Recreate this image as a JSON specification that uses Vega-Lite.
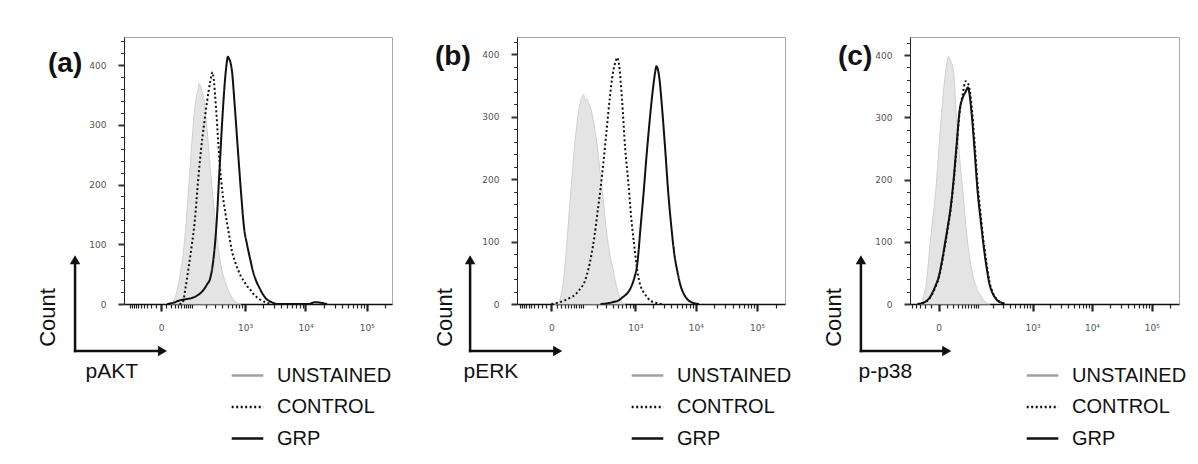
{
 "$schema": "https://vega.github.io/schema/vega-lite/v6.json",
 "background": "white",
 "padding": {"left": 35, "top": 36, "right": 5, "bottom": 5},
 "autosize": {"type": "pad"},
 "spacing": 125,
 "bounds": "flush",
 "config": {
  "font": "Liberation Sans",
  "view": {"stroke": "#a8a8a8", "strokeWidth": 1},
  "axis": {"grid": false},
  "axisX": {"labelExpr": "datum.value === 0 ? '0' : datum.value === 1000 ? '10³' : datum.value === 10000 ? '10⁴' : datum.value === 100000 ? '10⁵' : ''",
   "tickColor": "#222", "domainColor": "#111", "domainWidth": 1.5,
   "labelFont": "DejaVu Sans", "labelFontSize": 9, "labelColor": "#555", "labelPadding": 12, "labelFlush": false, "labelOverlap": false,
   "titleFont": "Liberation Sans", "titleFontSize": 21, "titleFontWeight": "normal", "titleColor": "#111",
   "titleAlign": "left", "titleBaseline": "alphabetic", "titleY": 73},
  "axisY": {"labelExpr": "datum.value % 100 === 0 ? datum.label : ''",
   "tickColor": "#333", "domainColor": "#222", "domainWidth": 1,
   "labelFont": "DejaVu Sans", "labelFontSize": 9, "labelColor": "#555", "labelPadding": 12, "labelFlush": false, "labelOverlap": false,
   "titleFont": "Liberation Sans", "titleFontSize": 22, "titleFontWeight": "normal", "titleColor": "#111",
   "titleAngle": 270, "titleAlign": "center", "titleBaseline": "alphabetic", "titleY": 280},
  "legend": {"orient": "none", "title": null, "symbolType": "stroke", "symbolSize": 1000, "symbolStrokeWidth": 2.5, "labelFontSize": 20, "labelFont": "Liberation Sans", "labelColor": "#111", "labelOffset": 12, "rowPadding": 3.5, "padding": 0},
  "title": {"anchor": "start", "frame": "group", "offset": 0, "fontSize": 28, "fontWeight": "bold", "color": "#111", "baseline": "alphabetic"}
 },
 "resolve": {"scale": {"x": "independent", "y": "independent", "color": "independent", "strokeDash": "independent"}, "legend": {"color": "independent", "strokeDash": "independent"}},
 "datasets": {
  "hist": [
   {"panel":"a","sample":"UNSTAINED","intensity":18.6,"count":0},
   {"panel":"a","sample":"UNSTAINED","intensity":26.3,"count":5},
   {"panel":"a","sample":"UNSTAINED","intensity":35,"count":18},
   {"panel":"a","sample":"UNSTAINED","intensity":44.8,"count":43},
   {"panel":"a","sample":"UNSTAINED","intensity":55.8,"count":75},
   {"panel":"a","sample":"UNSTAINED","intensity":68,"count":126},
   {"panel":"a","sample":"UNSTAINED","intensity":81.8,"count":195},
   {"panel":"a","sample":"UNSTAINED","intensity":97.3,"count":268},
   {"panel":"a","sample":"UNSTAINED","intensity":114.7,"count":330},
   {"panel":"a","sample":"UNSTAINED","intensity":134.1,"count":358},
   {"panel":"a","sample":"UNSTAINED","intensity":143.9,"count":369},
   {"panel":"a","sample":"UNSTAINED","intensity":156,"count":362},
   {"panel":"a","sample":"UNSTAINED","intensity":180.5,"count":340},
   {"panel":"a","sample":"UNSTAINED","intensity":208,"count":291},
   {"panel":"a","sample":"UNSTAINED","intensity":238.9,"count":228},
   {"panel":"a","sample":"UNSTAINED","intensity":273.6,"count":173},
   {"panel":"a","sample":"UNSTAINED","intensity":312.4,"count":120},
   {"panel":"a","sample":"UNSTAINED","intensity":356.1,"count":80},
   {"panel":"a","sample":"UNSTAINED","intensity":405,"count":52},
   {"panel":"a","sample":"UNSTAINED","intensity":459.9,"count":36},
   {"panel":"a","sample":"UNSTAINED","intensity":521.5,"count":21},
   {"panel":"a","sample":"UNSTAINED","intensity":590.6,"count":12},
   {"panel":"a","sample":"UNSTAINED","intensity":668.2,"count":4},
   {"panel":"a","sample":"UNSTAINED","intensity":755.1,"count":1},
   {"panel":"a","sample":"UNSTAINED","intensity":852.9,"count":0},

   {"panel":"a","sample":"CONTROL","intensity":44.8,"count":0},
   {"panel":"a","sample":"CONTROL","intensity":55.8,"count":2},
   {"panel":"a","sample":"CONTROL","intensity":68,"count":28},
   {"panel":"a","sample":"CONTROL","intensity":81.8,"count":62},
   {"panel":"a","sample":"CONTROL","intensity":97.3,"count":98},
   {"panel":"a","sample":"CONTROL","intensity":114.7,"count":140},
   {"panel":"a","sample":"CONTROL","intensity":134.1,"count":203},
   {"panel":"a","sample":"CONTROL","intensity":156,"count":258},
   {"panel":"a","sample":"CONTROL","intensity":180.5,"count":301},
   {"panel":"a","sample":"CONTROL","intensity":208,"count":340},
   {"panel":"a","sample":"CONTROL","intensity":238.9,"count":372},
   {"panel":"a","sample":"CONTROL","intensity":266,"count":388},
   {"panel":"a","sample":"CONTROL","intensity":273.6,"count":382},
   {"panel":"a","sample":"CONTROL","intensity":312.4,"count":320},
   {"panel":"a","sample":"CONTROL","intensity":356.1,"count":240},
   {"panel":"a","sample":"CONTROL","intensity":405,"count":186},
   {"panel":"a","sample":"CONTROL","intensity":459.9,"count":150},
   {"panel":"a","sample":"CONTROL","intensity":521.5,"count":120},
   {"panel":"a","sample":"CONTROL","intensity":590.6,"count":90},
   {"panel":"a","sample":"CONTROL","intensity":668.2,"count":72},
   {"panel":"a","sample":"CONTROL","intensity":755.1,"count":58},
   {"panel":"a","sample":"CONTROL","intensity":852.9,"count":46},
   {"panel":"a","sample":"CONTROL","intensity":962.5,"count":38},
   {"panel":"a","sample":"CONTROL","intensity":1085,"count":30},
   {"panel":"a","sample":"CONTROL","intensity":1223,"count":24},
   {"panel":"a","sample":"CONTROL","intensity":1378,"count":17},
   {"panel":"a","sample":"CONTROL","intensity":1552,"count":12},
   {"panel":"a","sample":"CONTROL","intensity":1747,"count":8},
   {"panel":"a","sample":"CONTROL","intensity":2210,"count":3},
   {"panel":"a","sample":"CONTROL","intensity":2794,"count":0},

   {"panel":"a","sample":"GRP","intensity":11.6,"count":0},
   {"panel":"a","sample":"GRP","intensity":26.3,"count":2},
   {"panel":"a","sample":"GRP","intensity":44.8,"count":6},
   {"panel":"a","sample":"GRP","intensity":68,"count":8},
   {"panel":"a","sample":"GRP","intensity":97.3,"count":10},
   {"panel":"a","sample":"GRP","intensity":114.7,"count":12},
   {"panel":"a","sample":"GRP","intensity":134.1,"count":15},
   {"panel":"a","sample":"GRP","intensity":156,"count":19},
   {"panel":"a","sample":"GRP","intensity":180.5,"count":25},
   {"panel":"a","sample":"GRP","intensity":208,"count":33},
   {"panel":"a","sample":"GRP","intensity":238.9,"count":43},
   {"panel":"a","sample":"GRP","intensity":273.6,"count":73},
   {"panel":"a","sample":"GRP","intensity":312.4,"count":130},
   {"panel":"a","sample":"GRP","intensity":356.1,"count":222},
   {"panel":"a","sample":"GRP","intensity":405,"count":315},
   {"panel":"a","sample":"GRP","intensity":459.9,"count":386},
   {"panel":"a","sample":"GRP","intensity":507,"count":414},
   {"panel":"a","sample":"GRP","intensity":521.5,"count":412},
   {"panel":"a","sample":"GRP","intensity":590.6,"count":393},
   {"panel":"a","sample":"GRP","intensity":668.2,"count":330},
   {"panel":"a","sample":"GRP","intensity":755.1,"count":258},
   {"panel":"a","sample":"GRP","intensity":852.9,"count":188},
   {"panel":"a","sample":"GRP","intensity":962.5,"count":128},
   {"panel":"a","sample":"GRP","intensity":1085,"count":99},
   {"panel":"a","sample":"GRP","intensity":1223,"count":75},
   {"panel":"a","sample":"GRP","intensity":1378,"count":53},
   {"panel":"a","sample":"GRP","intensity":1552,"count":38},
   {"panel":"a","sample":"GRP","intensity":1747,"count":27},
   {"panel":"a","sample":"GRP","intensity":2210,"count":10},
   {"panel":"a","sample":"GRP","intensity":2794,"count":3},
   {"panel":"a","sample":"GRP","intensity":3529,"count":0},
   {"panel":"a","sample":"GRP","intensity":11259,"count":0},
   {"panel":"a","sample":"GRP","intensity":14185,"count":3},
   {"panel":"a","sample":"GRP","intensity":17870,"count":2},
   {"panel":"a","sample":"GRP","intensity":22510,"count":0},

   {"panel":"b","sample":"UNSTAINED","intensity":5.5,"count":0},
   {"panel":"b","sample":"UNSTAINED","intensity":11.6,"count":1},
   {"panel":"b","sample":"UNSTAINED","intensity":18.6,"count":11},
   {"panel":"b","sample":"UNSTAINED","intensity":26.3,"count":40},
   {"panel":"b","sample":"UNSTAINED","intensity":35,"count":95},
   {"panel":"b","sample":"UNSTAINED","intensity":44.8,"count":160},
   {"panel":"b","sample":"UNSTAINED","intensity":55.8,"count":222},
   {"panel":"b","sample":"UNSTAINED","intensity":68,"count":275},
   {"panel":"b","sample":"UNSTAINED","intensity":81.8,"count":312},
   {"panel":"b","sample":"UNSTAINED","intensity":97.3,"count":333},
   {"panel":"b","sample":"UNSTAINED","intensity":105.7,"count":336},
   {"panel":"b","sample":"UNSTAINED","intensity":114.7,"count":326},
   {"panel":"b","sample":"UNSTAINED","intensity":124.1,"count":330},
   {"panel":"b","sample":"UNSTAINED","intensity":134.1,"count":324},
   {"panel":"b","sample":"UNSTAINED","intensity":156,"count":310},
   {"panel":"b","sample":"UNSTAINED","intensity":180.5,"count":284},
   {"panel":"b","sample":"UNSTAINED","intensity":208,"count":250},
   {"panel":"b","sample":"UNSTAINED","intensity":238.9,"count":205},
   {"panel":"b","sample":"UNSTAINED","intensity":273.6,"count":161},
   {"panel":"b","sample":"UNSTAINED","intensity":312.4,"count":114},
   {"panel":"b","sample":"UNSTAINED","intensity":356.1,"count":80},
   {"panel":"b","sample":"UNSTAINED","intensity":405,"count":57},
   {"panel":"b","sample":"UNSTAINED","intensity":459.9,"count":32},
   {"panel":"b","sample":"UNSTAINED","intensity":521.5,"count":14},
   {"panel":"b","sample":"UNSTAINED","intensity":590.6,"count":3},
   {"panel":"b","sample":"UNSTAINED","intensity":668.2,"count":0},

   {"panel":"b","sample":"CONTROL","intensity":0,"count":0},
   {"panel":"b","sample":"CONTROL","intensity":11.6,"count":2},
   {"panel":"b","sample":"CONTROL","intensity":26.3,"count":5},
   {"panel":"b","sample":"CONTROL","intensity":44.8,"count":10},
   {"panel":"b","sample":"CONTROL","intensity":68,"count":16},
   {"panel":"b","sample":"CONTROL","intensity":81.8,"count":22},
   {"panel":"b","sample":"CONTROL","intensity":97.3,"count":28},
   {"panel":"b","sample":"CONTROL","intensity":114.7,"count":38},
   {"panel":"b","sample":"CONTROL","intensity":134.1,"count":55},
   {"panel":"b","sample":"CONTROL","intensity":156,"count":78},
   {"panel":"b","sample":"CONTROL","intensity":180.5,"count":108},
   {"panel":"b","sample":"CONTROL","intensity":208,"count":146},
   {"panel":"b","sample":"CONTROL","intensity":238.9,"count":185},
   {"panel":"b","sample":"CONTROL","intensity":273.6,"count":230},
   {"panel":"b","sample":"CONTROL","intensity":312.4,"count":280},
   {"panel":"b","sample":"CONTROL","intensity":356.1,"count":330},
   {"panel":"b","sample":"CONTROL","intensity":405,"count":370},
   {"panel":"b","sample":"CONTROL","intensity":459.9,"count":390},
   {"panel":"b","sample":"CONTROL","intensity":481,"count":395},
   {"panel":"b","sample":"CONTROL","intensity":521.5,"count":384},
   {"panel":"b","sample":"CONTROL","intensity":590.6,"count":327},
   {"panel":"b","sample":"CONTROL","intensity":668.2,"count":250},
   {"panel":"b","sample":"CONTROL","intensity":755.1,"count":197},
   {"panel":"b","sample":"CONTROL","intensity":852.9,"count":137},
   {"panel":"b","sample":"CONTROL","intensity":962.5,"count":92},
   {"panel":"b","sample":"CONTROL","intensity":1085,"count":52},
   {"panel":"b","sample":"CONTROL","intensity":1223,"count":29},
   {"panel":"b","sample":"CONTROL","intensity":1378,"count":19},
   {"panel":"b","sample":"CONTROL","intensity":1552,"count":12},
   {"panel":"b","sample":"CONTROL","intensity":1747,"count":6},
   {"panel":"b","sample":"CONTROL","intensity":2210,"count":2},
   {"panel":"b","sample":"CONTROL","intensity":2794,"count":0},

   {"panel":"b","sample":"GRP","intensity":238.9,"count":0},
   {"panel":"b","sample":"GRP","intensity":312.4,"count":1},
   {"panel":"b","sample":"GRP","intensity":405,"count":3},
   {"panel":"b","sample":"GRP","intensity":521.5,"count":6},
   {"panel":"b","sample":"GRP","intensity":590.6,"count":10},
   {"panel":"b","sample":"GRP","intensity":668.2,"count":14},
   {"panel":"b","sample":"GRP","intensity":755.1,"count":19},
   {"panel":"b","sample":"GRP","intensity":852.9,"count":28},
   {"panel":"b","sample":"GRP","intensity":962.5,"count":42},
   {"panel":"b","sample":"GRP","intensity":1085,"count":66},
   {"panel":"b","sample":"GRP","intensity":1223,"count":122},
   {"panel":"b","sample":"GRP","intensity":1378,"count":178},
   {"panel":"b","sample":"GRP","intensity":1552,"count":240},
   {"panel":"b","sample":"GRP","intensity":1747,"count":295},
   {"panel":"b","sample":"GRP","intensity":1965,"count":343},
   {"panel":"b","sample":"GRP","intensity":2210,"count":378},
   {"panel":"b","sample":"GRP","intensity":2247,"count":381},
   {"panel":"b","sample":"GRP","intensity":2485,"count":367},
   {"panel":"b","sample":"GRP","intensity":2794,"count":315},
   {"panel":"b","sample":"GRP","intensity":3141,"count":250},
   {"panel":"b","sample":"GRP","intensity":3529,"count":180},
   {"panel":"b","sample":"GRP","intensity":3966,"count":125},
   {"panel":"b","sample":"GRP","intensity":4455,"count":80},
   {"panel":"b","sample":"GRP","intensity":5004,"count":52},
   {"panel":"b","sample":"GRP","intensity":5621,"count":30},
   {"panel":"b","sample":"GRP","intensity":6311,"count":17},
   {"panel":"b","sample":"GRP","intensity":7087,"count":9},
   {"panel":"b","sample":"GRP","intensity":8935,"count":2},
   {"panel":"b","sample":"GRP","intensity":11259,"count":0},

   {"panel":"c","sample":"UNSTAINED","intensity":-34.7,"count":0},
   {"panel":"c","sample":"UNSTAINED","intensity":-27.9,"count":1},
   {"panel":"c","sample":"UNSTAINED","intensity":-21.8,"count":12},
   {"panel":"c","sample":"UNSTAINED","intensity":-16.4,"count":37},
   {"panel":"c","sample":"UNSTAINED","intensity":-11.6,"count":88},
   {"panel":"c","sample":"UNSTAINED","intensity":-7.25,"count":135},
   {"panel":"c","sample":"UNSTAINED","intensity":-3.4,"count":180},
   {"panel":"c","sample":"UNSTAINED","intensity":0,"count":245},
   {"panel":"c","sample":"UNSTAINED","intensity":3.4,"count":308},
   {"panel":"c","sample":"UNSTAINED","intensity":7.25,"count":360},
   {"panel":"c","sample":"UNSTAINED","intensity":11.55,"count":393},
   {"panel":"c","sample":"UNSTAINED","intensity":13.1,"count":398},
   {"panel":"c","sample":"UNSTAINED","intensity":16.4,"count":391},
   {"panel":"c","sample":"UNSTAINED","intensity":21.8,"count":372},
   {"panel":"c","sample":"UNSTAINED","intensity":27.9,"count":294},
   {"panel":"c","sample":"UNSTAINED","intensity":34.7,"count":234},
   {"panel":"c","sample":"UNSTAINED","intensity":42.3,"count":185},
   {"panel":"c","sample":"UNSTAINED","intensity":50.9,"count":130},
   {"panel":"c","sample":"UNSTAINED","intensity":60.5,"count":85},
   {"panel":"c","sample":"UNSTAINED","intensity":71.3,"count":55},
   {"panel":"c","sample":"UNSTAINED","intensity":83.5,"count":35},
   {"panel":"c","sample":"UNSTAINED","intensity":97.1,"count":22},
   {"panel":"c","sample":"UNSTAINED","intensity":112.3,"count":14},
   {"panel":"c","sample":"UNSTAINED","intensity":129.4,"count":6},
   {"panel":"c","sample":"UNSTAINED","intensity":148.7,"count":2},
   {"panel":"c","sample":"UNSTAINED","intensity":170.2,"count":0},

   {"panel":"c","sample":"CONTROL","intensity":-34.7,"count":0},
   {"panel":"c","sample":"CONTROL","intensity":-27.9,"count":1},
   {"panel":"c","sample":"CONTROL","intensity":-16.4,"count":4},
   {"panel":"c","sample":"CONTROL","intensity":-11.6,"count":9},
   {"panel":"c","sample":"CONTROL","intensity":-7.25,"count":17},
   {"panel":"c","sample":"CONTROL","intensity":-3.4,"count":28},
   {"panel":"c","sample":"CONTROL","intensity":0,"count":41},
   {"panel":"c","sample":"CONTROL","intensity":3.4,"count":63},
   {"panel":"c","sample":"CONTROL","intensity":7.25,"count":90},
   {"panel":"c","sample":"CONTROL","intensity":11.55,"count":120},
   {"panel":"c","sample":"CONTROL","intensity":16.4,"count":152},
   {"panel":"c","sample":"CONTROL","intensity":21.8,"count":196},
   {"panel":"c","sample":"CONTROL","intensity":27.9,"count":252},
   {"panel":"c","sample":"CONTROL","intensity":34.7,"count":308},
   {"panel":"c","sample":"CONTROL","intensity":42.3,"count":336},
   {"panel":"c","sample":"CONTROL","intensity":50.9,"count":358},
   {"panel":"c","sample":"CONTROL","intensity":60.5,"count":352},
   {"panel":"c","sample":"CONTROL","intensity":71.3,"count":318},
   {"panel":"c","sample":"CONTROL","intensity":83.5,"count":258},
   {"panel":"c","sample":"CONTROL","intensity":97.1,"count":192},
   {"panel":"c","sample":"CONTROL","intensity":112.3,"count":144},
   {"panel":"c","sample":"CONTROL","intensity":129.4,"count":100},
   {"panel":"c","sample":"CONTROL","intensity":148.7,"count":64},
   {"panel":"c","sample":"CONTROL","intensity":170.2,"count":35},
   {"panel":"c","sample":"CONTROL","intensity":194.4,"count":19},
   {"panel":"c","sample":"CONTROL","intensity":221.6,"count":10},
   {"panel":"c","sample":"CONTROL","intensity":252,"count":5},
   {"panel":"c","sample":"CONTROL","intensity":286.2,"count":2},
   {"panel":"c","sample":"CONTROL","intensity":324.5,"count":0},

   {"panel":"c","sample":"GRP","intensity":-34.7,"count":0},
   {"panel":"c","sample":"GRP","intensity":-27.9,"count":1},
   {"panel":"c","sample":"GRP","intensity":-16.4,"count":5},
   {"panel":"c","sample":"GRP","intensity":-11.6,"count":10},
   {"panel":"c","sample":"GRP","intensity":-7.25,"count":19},
   {"panel":"c","sample":"GRP","intensity":-3.4,"count":30},
   {"panel":"c","sample":"GRP","intensity":0,"count":43},
   {"panel":"c","sample":"GRP","intensity":3.4,"count":66},
   {"panel":"c","sample":"GRP","intensity":7.25,"count":94},
   {"panel":"c","sample":"GRP","intensity":11.55,"count":123},
   {"panel":"c","sample":"GRP","intensity":16.4,"count":155},
   {"panel":"c","sample":"GRP","intensity":21.8,"count":200},
   {"panel":"c","sample":"GRP","intensity":27.9,"count":257},
   {"panel":"c","sample":"GRP","intensity":34.7,"count":311},
   {"panel":"c","sample":"GRP","intensity":42.3,"count":331},
   {"panel":"c","sample":"GRP","intensity":50.9,"count":341},
   {"panel":"c","sample":"GRP","intensity":58.3,"count":348},
   {"panel":"c","sample":"GRP","intensity":60.5,"count":345},
   {"panel":"c","sample":"GRP","intensity":71.3,"count":306},
   {"panel":"c","sample":"GRP","intensity":83.5,"count":245},
   {"panel":"c","sample":"GRP","intensity":97.1,"count":180},
   {"panel":"c","sample":"GRP","intensity":112.3,"count":135},
   {"panel":"c","sample":"GRP","intensity":129.4,"count":93},
   {"panel":"c","sample":"GRP","intensity":148.7,"count":58},
   {"panel":"c","sample":"GRP","intensity":170.2,"count":31},
   {"panel":"c","sample":"GRP","intensity":194.4,"count":17},
   {"panel":"c","sample":"GRP","intensity":221.6,"count":9},
   {"panel":"c","sample":"GRP","intensity":252,"count":4},
   {"panel":"c","sample":"GRP","intensity":286.2,"count":2},
   {"panel":"c","sample":"GRP","intensity":324.5,"count":0}
  ]
 },
 "hconcat": [
  {
   "width": 268, "height": 267,
   "title": {"text": "(a)", "dx": -76, "dy": 45},
   "layer": [
    {
     "encoding": {
      "x": {"field": "intensity", "type": "quantitative",
       "scale": {"type": "symlog", "constant": 45, "domain": [-135, 256500], "nice": false, "zero": false},
       "axis": {"title": "pAKT", "titleX": -39, "values": [-100,-90,-80,-70,-60,-50,-40,-30,-20,-10,0,10,20,30,40,50,60,70,80,90,100,200,300,400,500,600,700,800,900,1000,2000,3000,4000,5000,6000,7000,8000,9000,10000,20000,30000,40000,50000,60000,70000,80000,90000,100000,200000],
        "tickSize": {"condition": {"test": "datum.value === 0 || datum.value === 1000 || datum.value === 10000 || datum.value === 100000", "value": 7}, "value": 4},
        "tickWidth": {"condition": {"test": "datum.value === 0 || datum.value === 1000 || datum.value === 10000 || datum.value === 100000", "value": 2.2}, "value": 1.2}}},
      "y": {"field": "count", "type": "quantitative",
       "scale": {"domain": [0, 447], "nice": false},
       "axis": {"title": "Count", "titleX": -70, "values": [0,20,40,60,80,100,120,140,160,180,200,220,240,260,280,300,320,340,360,380,400,420,440],
        "tickSize": {"condition": {"test": "datum.value % 100 === 0", "value": 6}, "value": 3.5},
        "tickWidth": {"condition": {"test": "datum.value % 100 === 0", "value": 2}, "value": 1}}}
     },
     "layer": [
      {"data": {"name": "hist"}, "transform": [{"filter": "datum.panel === 'a' && datum.sample === 'UNSTAINED'"}],
       "mark": {"type": "area", "fill": "#e4e4e4", "stroke": "#d0d0d0", "strokeWidth": 1, "interpolate": "monotone"}},
      {"data": {"name": "hist"}, "transform": [{"filter": "datum.panel === 'a' && datum.sample !== 'UNSTAINED'"}],
       "mark": {"type": "line", "strokeWidth": 2, "interpolate": "monotone"},
       "encoding": {
        "color": {"field": "sample", "type": "nominal", "scale": {"domain": ["UNSTAINED", "CONTROL", "GRP"], "range": ["#a0a0a0", "#111111", "#111111"]},
         "legend": {"legendX": 106, "legendY": 321}},
        "strokeDash": {"field": "sample", "type": "nominal", "scale": {"domain": ["UNSTAINED", "CONTROL", "GRP"], "range": [[1, 0], [2, 2.5], [1, 0]]},
         "legend": {"legendX": 106, "legendY": 321}}
       }}
     ]
    },
    {
     "data": {"values": [{}]},
     "encoding": {
      "x": {"datum": -1080, "type": "quantitative",
       "scale": {"type": "symlog", "constant": 45, "domain": [-135, 256500], "nice": false, "zero": false},
       "axis": {"title": "pAKT", "titleX": -39, "values": [-100,-90,-80,-70,-60,-50,-40,-30,-20,-10,0,10,20,30,40,50,60,70,80,90,100,200,300,400,500,600,700,800,900,1000,2000,3000,4000,5000,6000,7000,8000,9000,10000,20000,30000,40000,50000,60000,70000,80000,90000,100000,200000],
        "tickSize": {"condition": {"test": "datum.value === 0 || datum.value === 1000 || datum.value === 10000 || datum.value === 100000", "value": 7}, "value": 4},
        "tickWidth": {"condition": {"test": "datum.value === 0 || datum.value === 1000 || datum.value === 10000 || datum.value === 100000", "value": 2.2}, "value": 1.2}}},
      "y": {"datum": -78.7, "type": "quantitative",
       "scale": {"domain": [0, 447], "nice": false},
       "axis": {"title": "Count", "titleX": -70, "values": [0,20,40,60,80,100,120,140,160,180,200,220,240,260,280,300,320,340,360,380,400,420,440],
        "tickSize": {"condition": {"test": "datum.value % 100 === 0", "value": 6}, "value": 3.5},
        "tickWidth": {"condition": {"test": "datum.value % 100 === 0", "value": 2}, "value": 1}}}
     },
     "layer": [
      {"mark": {"type": "rule", "color": "#111", "strokeWidth": 2.5, "strokeCap": "square", "clip": false},
       "encoding": {"y2": {"datum": 72}}},
      {"mark": {"type": "rule", "color": "#111", "strokeWidth": 2.5, "strokeCap": "square", "clip": false},
       "encoding": {"x2": {"datum": 1}}}
     ]
    },
    {
     "data": {"values": [{}]},
     "mark": {"type": "point", "shape": "triangle-up", "filled": true, "size": 110, "color": "#111", "opacity": 1, "clip": false},
     "encoding": {
      "x": {"datum": -1080, "type": "quantitative",
       "scale": {"type": "symlog", "constant": 45, "domain": [-135, 256500], "nice": false, "zero": false},
       "axis": {"title": "pAKT", "titleX": -39, "values": [-100,-90,-80,-70,-60,-50,-40,-30,-20,-10,0,10,20,30,40,50,60,70,80,90,100,200,300,400,500,600,700,800,900,1000,2000,3000,4000,5000,6000,7000,8000,9000,10000,20000,30000,40000,50000,60000,70000,80000,90000,100000,200000],
        "tickSize": {"condition": {"test": "datum.value === 0 || datum.value === 1000 || datum.value === 10000 || datum.value === 100000", "value": 7}, "value": 4},
        "tickWidth": {"condition": {"test": "datum.value === 0 || datum.value === 1000 || datum.value === 10000 || datum.value === 100000", "value": 2.2}, "value": 1.2}}},
      "y": {"datum": 74, "type": "quantitative",
       "scale": {"domain": [0, 447], "nice": false},
       "axis": {"title": "Count", "titleX": -70, "values": [0,20,40,60,80,100,120,140,160,180,200,220,240,260,280,300,320,340,360,380,400,420,440],
        "tickSize": {"condition": {"test": "datum.value % 100 === 0", "value": 6}, "value": 3.5},
        "tickWidth": {"condition": {"test": "datum.value % 100 === 0", "value": 2}, "value": 1}}}
     }
    },
    {
     "data": {"values": [{}]},
     "mark": {"type": "point", "shape": "triangle-right", "filled": true, "size": 110, "color": "#111", "opacity": 1, "clip": false},
     "encoding": {
      "x": {"datum": 2.5, "type": "quantitative",
       "scale": {"type": "symlog", "constant": 45, "domain": [-135, 256500], "nice": false, "zero": false},
       "axis": {"title": "pAKT", "titleX": -39, "values": [-100,-90,-80,-70,-60,-50,-40,-30,-20,-10,0,10,20,30,40,50,60,70,80,90,100,200,300,400,500,600,700,800,900,1000,2000,3000,4000,5000,6000,7000,8000,9000,10000,20000,30000,40000,50000,60000,70000,80000,90000,100000,200000],
        "tickSize": {"condition": {"test": "datum.value === 0 || datum.value === 1000 || datum.value === 10000 || datum.value === 100000", "value": 7}, "value": 4},
        "tickWidth": {"condition": {"test": "datum.value === 0 || datum.value === 1000 || datum.value === 10000 || datum.value === 100000", "value": 2.2}, "value": 1.2}}},
      "y": {"datum": -78.7, "type": "quantitative",
       "scale": {"domain": [0, 447], "nice": false},
       "axis": {"title": "Count", "titleX": -70, "values": [0,20,40,60,80,100,120,140,160,180,200,220,240,260,280,300,320,340,360,380,400,420,440],
        "tickSize": {"condition": {"test": "datum.value % 100 === 0", "value": 6}, "value": 3.5},
        "tickWidth": {"condition": {"test": "datum.value % 100 === 0", "value": 2}, "value": 1}}}
     }
    }
   ]
  },
  {
   "width": 268, "height": 267,
   "title": {"text": "(b)", "dx": -82, "dy": 38},
   "layer": [
    {
     "encoding": {
      "x": {"field": "intensity", "type": "quantitative",
       "scale": {"type": "symlog", "constant": 45, "domain": [-118, 284000], "nice": false, "zero": false},
       "axis": {"title": "pERK", "titleX": -54, "values": [-100,-90,-80,-70,-60,-50,-40,-30,-20,-10,0,10,20,30,40,50,60,70,80,90,100,200,300,400,500,600,700,800,900,1000,2000,3000,4000,5000,6000,7000,8000,9000,10000,20000,30000,40000,50000,60000,70000,80000,90000,100000,200000],
        "tickSize": {"condition": {"test": "datum.value === 0 || datum.value === 1000 || datum.value === 10000 || datum.value === 100000", "value": 7}, "value": 4},
        "tickWidth": {"condition": {"test": "datum.value === 0 || datum.value === 1000 || datum.value === 10000 || datum.value === 100000", "value": 2.2}, "value": 1.2}}},
      "y": {"field": "count", "type": "quantitative",
       "scale": {"domain": [0, 428], "nice": false},
       "axis": {"title": "Count", "titleX": -66, "values": [0,20,40,60,80,100,120,140,160,180,200,220,240,260,280,300,320,340,360,380,400,420],
        "tickSize": {"condition": {"test": "datum.value % 100 === 0", "value": 6}, "value": 3.5},
        "tickWidth": {"condition": {"test": "datum.value % 100 === 0", "value": 2}, "value": 1}}}
     },
     "layer": [
      {"data": {"name": "hist"}, "transform": [{"filter": "datum.panel === 'b' && datum.sample === 'UNSTAINED'"}],
       "mark": {"type": "area", "fill": "#e4e4e4", "stroke": "#d0d0d0", "strokeWidth": 1, "interpolate": "monotone"}},
      {"data": {"name": "hist"}, "transform": [{"filter": "datum.panel === 'b' && datum.sample !== 'UNSTAINED'"}],
       "mark": {"type": "line", "strokeWidth": 2, "interpolate": "monotone"},
       "encoding": {
        "color": {"field": "sample", "type": "nominal", "scale": {"domain": ["UNSTAINED", "CONTROL", "GRP"], "range": ["#a0a0a0", "#111111", "#111111"]},
         "legend": {"legendX": 113, "legendY": 321}},
        "strokeDash": {"field": "sample", "type": "nominal", "scale": {"domain": ["UNSTAINED", "CONTROL", "GRP"], "range": [[1, 0], [2, 2.5], [1, 0]]},
         "legend": {"legendX": 113, "legendY": 321}}
       }}
     ]
    },
    {
     "data": {"values": [{}]},
     "encoding": {
      "x": {"datum": -899, "type": "quantitative",
       "scale": {"type": "symlog", "constant": 45, "domain": [-118, 284000], "nice": false, "zero": false},
       "axis": {"title": "pERK", "titleX": -54, "values": [-100,-90,-80,-70,-60,-50,-40,-30,-20,-10,0,10,20,30,40,50,60,70,80,90,100,200,300,400,500,600,700,800,900,1000,2000,3000,4000,5000,6000,7000,8000,9000,10000,20000,30000,40000,50000,60000,70000,80000,90000,100000,200000],
        "tickSize": {"condition": {"test": "datum.value === 0 || datum.value === 1000 || datum.value === 10000 || datum.value === 100000", "value": 7}, "value": 4},
        "tickWidth": {"condition": {"test": "datum.value === 0 || datum.value === 1000 || datum.value === 10000 || datum.value === 100000", "value": 2.2}, "value": 1.2}}},
      "y": {"datum": -75.3, "type": "quantitative",
       "scale": {"domain": [0, 428], "nice": false},
       "axis": {"title": "Count", "titleX": -66, "values": [0,20,40,60,80,100,120,140,160,180,200,220,240,260,280,300,320,340,360,380,400,420],
        "tickSize": {"condition": {"test": "datum.value % 100 === 0", "value": 6}, "value": 3.5},
        "tickWidth": {"condition": {"test": "datum.value % 100 === 0", "value": 2}, "value": 1}}}
     },
     "layer": [
      {"mark": {"type": "rule", "color": "#111", "strokeWidth": 2.5, "strokeCap": "square", "clip": false},
       "encoding": {"y2": {"datum": 69}}},
      {"mark": {"type": "rule", "color": "#111", "strokeWidth": 2.5, "strokeCap": "square", "clip": false},
       "encoding": {"x2": {"datum": 8}}}
     ]
    },
    {
     "data": {"values": [{}]},
     "mark": {"type": "point", "shape": "triangle-up", "filled": true, "size": 110, "color": "#111", "opacity": 1, "clip": false},
     "encoding": {
      "x": {"datum": -899, "type": "quantitative",
       "scale": {"type": "symlog", "constant": 45, "domain": [-118, 284000], "nice": false, "zero": false},
       "axis": {"title": "pERK", "titleX": -54, "values": [-100,-90,-80,-70,-60,-50,-40,-30,-20,-10,0,10,20,30,40,50,60,70,80,90,100,200,300,400,500,600,700,800,900,1000,2000,3000,4000,5000,6000,7000,8000,9000,10000,20000,30000,40000,50000,60000,70000,80000,90000,100000,200000],
        "tickSize": {"condition": {"test": "datum.value === 0 || datum.value === 1000 || datum.value === 10000 || datum.value === 100000", "value": 7}, "value": 4},
        "tickWidth": {"condition": {"test": "datum.value === 0 || datum.value === 1000 || datum.value === 10000 || datum.value === 100000", "value": 2.2}, "value": 1.2}}},
      "y": {"datum": 71, "type": "quantitative",
       "scale": {"domain": [0, 428], "nice": false},
       "axis": {"title": "Count", "titleX": -66, "values": [0,20,40,60,80,100,120,140,160,180,200,220,240,260,280,300,320,340,360,380,400,420],
        "tickSize": {"condition": {"test": "datum.value % 100 === 0", "value": 6}, "value": 3.5},
        "tickWidth": {"condition": {"test": "datum.value % 100 === 0", "value": 2}, "value": 1}}}
     }
    },
    {
     "data": {"values": [{}]},
     "mark": {"type": "point", "shape": "triangle-right", "filled": true, "size": 110, "color": "#111", "opacity": 1, "clip": false},
     "encoding": {
      "x": {"datum": 12, "type": "quantitative",
       "scale": {"type": "symlog", "constant": 45, "domain": [-118, 284000], "nice": false, "zero": false},
       "axis": {"title": "pERK", "titleX": -54, "values": [-100,-90,-80,-70,-60,-50,-40,-30,-20,-10,0,10,20,30,40,50,60,70,80,90,100,200,300,400,500,600,700,800,900,1000,2000,3000,4000,5000,6000,7000,8000,9000,10000,20000,30000,40000,50000,60000,70000,80000,90000,100000,200000],
        "tickSize": {"condition": {"test": "datum.value === 0 || datum.value === 1000 || datum.value === 10000 || datum.value === 100000", "value": 7}, "value": 4},
        "tickWidth": {"condition": {"test": "datum.value === 0 || datum.value === 1000 || datum.value === 10000 || datum.value === 100000", "value": 2.2}, "value": 1.2}}},
      "y": {"datum": -75.3, "type": "quantitative",
       "scale": {"domain": [0, 428], "nice": false},
       "axis": {"title": "Count", "titleX": -66, "values": [0,20,40,60,80,100,120,140,160,180,200,220,240,260,280,300,320,340,360,380,400,420],
        "tickSize": {"condition": {"test": "datum.value % 100 === 0", "value": 6}, "value": 3.5},
        "tickWidth": {"condition": {"test": "datum.value % 100 === 0", "value": 2}, "value": 1}}}
     }
    }
   ]
  },
  {
   "width": 269, "height": 267,
   "title": {"text": "(c)", "dx": -72, "dy": 38},
   "layer": [
    {
     "encoding": {
      "x": {"field": "intensity", "type": "quantitative",
       "scale": {"type": "symlog", "constant": 28, "domain": [-56, 283000], "nice": false, "zero": false},
       "axis": {"title": "p-p38", "titleX": -52, "values": [-50,-40,-30,-20,-10,0,10,20,30,40,50,60,70,80,90,100,200,300,400,500,600,700,800,900,1000,2000,3000,4000,5000,6000,7000,8000,9000,10000,20000,30000,40000,50000,60000,70000,80000,90000,100000,200000],
        "tickSize": {"condition": {"test": "datum.value === 0 || datum.value === 1000 || datum.value === 10000 || datum.value === 100000", "value": 7}, "value": 4},
        "tickWidth": {"condition": {"test": "datum.value === 0 || datum.value === 1000 || datum.value === 10000 || datum.value === 100000", "value": 2.2}, "value": 1.2}}},
      "y": {"field": "count", "type": "quantitative",
       "scale": {"domain": [0, 429], "nice": false},
       "axis": {"title": "Count", "titleX": -70, "values": [0,20,40,60,80,100,120,140,160,180,200,220,240,260,280,300,320,340,360,380,400,420],
        "tickSize": {"condition": {"test": "datum.value % 100 === 0", "value": 6}, "value": 3.5},
        "tickWidth": {"condition": {"test": "datum.value % 100 === 0", "value": 2}, "value": 1}}}
     },
     "layer": [
      {"data": {"name": "hist"}, "transform": [{"filter": "datum.panel === 'c' && datum.sample === 'UNSTAINED'"}],
       "mark": {"type": "area", "fill": "#e4e4e4", "stroke": "#d0d0d0", "strokeWidth": 1, "interpolate": "monotone"}},
      {"data": {"name": "hist"}, "transform": [{"filter": "datum.panel === 'c' && datum.sample !== 'UNSTAINED'"}],
       "mark": {"type": "line", "strokeWidth": 2, "interpolate": "monotone"},
       "encoding": {
        "color": {"field": "sample", "type": "nominal", "scale": {"domain": ["UNSTAINED", "CONTROL", "GRP"], "range": ["#a0a0a0", "#111111", "#111111"]},
         "legend": {"legendX": 115, "legendY": 321}},
        "strokeDash": {"field": "sample", "type": "nominal", "scale": {"domain": ["UNSTAINED", "CONTROL", "GRP"], "range": [[1, 0], [2, 2.5], [1, 0]]},
         "legend": {"legendX": 115, "legendY": 321}}
       }}
     ]
    },
    {
     "data": {"values": [{}]},
     "encoding": {
      "x": {"datum": -524, "type": "quantitative",
       "scale": {"type": "symlog", "constant": 28, "domain": [-56, 283000], "nice": false, "zero": false},
       "axis": {"title": "p-p38", "titleX": -52, "values": [-50,-40,-30,-20,-10,0,10,20,30,40,50,60,70,80,90,100,200,300,400,500,600,700,800,900,1000,2000,3000,4000,5000,6000,7000,8000,9000,10000,20000,30000,40000,50000,60000,70000,80000,90000,100000,200000],
        "tickSize": {"condition": {"test": "datum.value === 0 || datum.value === 1000 || datum.value === 10000 || datum.value === 100000", "value": 7}, "value": 4},
        "tickWidth": {"condition": {"test": "datum.value === 0 || datum.value === 1000 || datum.value === 10000 || datum.value === 100000", "value": 2.2}, "value": 1.2}}},
      "y": {"datum": -75.5, "type": "quantitative",
       "scale": {"domain": [0, 429], "nice": false},
       "axis": {"title": "Count", "titleX": -70, "values": [0,20,40,60,80,100,120,140,160,180,200,220,240,260,280,300,320,340,360,380,400,420],
        "tickSize": {"condition": {"test": "datum.value % 100 === 0", "value": 6}, "value": 3.5},
        "tickWidth": {"condition": {"test": "datum.value % 100 === 0", "value": 2}, "value": 1}}}
     },
     "layer": [
      {"mark": {"type": "rule", "color": "#111", "strokeWidth": 2.5, "strokeCap": "square", "clip": false},
       "encoding": {"y2": {"datum": 69}}},
      {"mark": {"type": "rule", "color": "#111", "strokeWidth": 2.5, "strokeCap": "square", "clip": false},
       "encoding": {"x2": {"datum": 6}}}
     ]
    },
    {
     "data": {"values": [{}]},
     "mark": {"type": "point", "shape": "triangle-up", "filled": true, "size": 110, "color": "#111", "opacity": 1, "clip": false},
     "encoding": {
      "x": {"datum": -524, "type": "quantitative",
       "scale": {"type": "symlog", "constant": 28, "domain": [-56, 283000], "nice": false, "zero": false},
       "axis": {"title": "p-p38", "titleX": -52, "values": [-50,-40,-30,-20,-10,0,10,20,30,40,50,60,70,80,90,100,200,300,400,500,600,700,800,900,1000,2000,3000,4000,5000,6000,7000,8000,9000,10000,20000,30000,40000,50000,60000,70000,80000,90000,100000,200000],
        "tickSize": {"condition": {"test": "datum.value === 0 || datum.value === 1000 || datum.value === 10000 || datum.value === 100000", "value": 7}, "value": 4},
        "tickWidth": {"condition": {"test": "datum.value === 0 || datum.value === 1000 || datum.value === 10000 || datum.value === 100000", "value": 2.2}, "value": 1.2}}},
      "y": {"datum": 71, "type": "quantitative",
       "scale": {"domain": [0, 429], "nice": false},
       "axis": {"title": "Count", "titleX": -70, "values": [0,20,40,60,80,100,120,140,160,180,200,220,240,260,280,300,320,340,360,380,400,420],
        "tickSize": {"condition": {"test": "datum.value % 100 === 0", "value": 6}, "value": 3.5},
        "tickWidth": {"condition": {"test": "datum.value % 100 === 0", "value": 2}, "value": 1}}}
     }
    },
    {
     "data": {"values": [{}]},
     "mark": {"type": "point", "shape": "triangle-right", "filled": true, "size": 110, "color": "#111", "opacity": 1, "clip": false},
     "encoding": {
      "x": {"datum": 10.2, "type": "quantitative",
       "scale": {"type": "symlog", "constant": 28, "domain": [-56, 283000], "nice": false, "zero": false},
       "axis": {"title": "p-p38", "titleX": -52, "values": [-50,-40,-30,-20,-10,0,10,20,30,40,50,60,70,80,90,100,200,300,400,500,600,700,800,900,1000,2000,3000,4000,5000,6000,7000,8000,9000,10000,20000,30000,40000,50000,60000,70000,80000,90000,100000,200000],
        "tickSize": {"condition": {"test": "datum.value === 0 || datum.value === 1000 || datum.value === 10000 || datum.value === 100000", "value": 7}, "value": 4},
        "tickWidth": {"condition": {"test": "datum.value === 0 || datum.value === 1000 || datum.value === 10000 || datum.value === 100000", "value": 2.2}, "value": 1.2}}},
      "y": {"datum": -75.5, "type": "quantitative",
       "scale": {"domain": [0, 429], "nice": false},
       "axis": {"title": "Count", "titleX": -70, "values": [0,20,40,60,80,100,120,140,160,180,200,220,240,260,280,300,320,340,360,380,400,420],
        "tickSize": {"condition": {"test": "datum.value % 100 === 0", "value": 6}, "value": 3.5},
        "tickWidth": {"condition": {"test": "datum.value % 100 === 0", "value": 2}, "value": 1}}}
     }
    }
   ]
  }
 ]
}
